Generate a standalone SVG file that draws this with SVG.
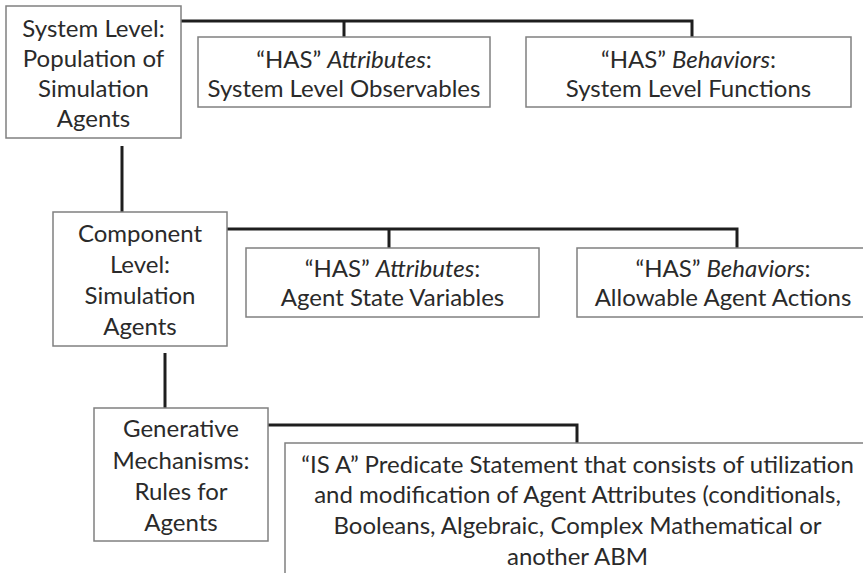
<svg xmlns="http://www.w3.org/2000/svg" width="863" height="573" viewBox="0 0 863 573">
<style>
.box{fill:#fff;stroke:#808080;stroke-width:1.5}
.t{font-family:Lato,"Open Sans","Liberation Sans",sans-serif;font-size:24px;fill:#2a2a2a;text-anchor:middle}
.i{font-style:italic}
.c{fill:none;stroke:#1e1e1e;stroke-width:3;stroke-linecap:butt;stroke-linejoin:miter}
</style>
<rect width="863" height="573" fill="#fff"/>
<g id="connectors">
<path class="c" d="M181 21 H692 V37"/>
<path class="c" d="M344 21 V37"/>
<path class="c" d="M122 146 V212"/>
<path class="c" d="M227 229 H737 V248"/>
<path class="c" d="M389 229 V248"/>
<path class="c" d="M165 353 V408"/>
<path class="c" d="M268 425 H577 V443"/>
</g>
<g id="system-level">
<rect class="box" x="6" y="6" width="175" height="132"/>
<text class="t" x="93.5" y="37">System Level:</text>
<text class="t" x="93.5" y="67">Population of</text>
<text class="t" x="93.5" y="97">Simulation</text>
<text class="t" x="93.5" y="127">Agents</text>
</g>
<g id="system-attributes">
<rect class="box" x="198" y="37" width="292" height="70"/>
<text class="t" x="344" y="68">“HAS” <tspan class="i">Attributes</tspan>:</text>
<text class="t" x="344" y="97">System Level Observables</text>
</g>
<g id="system-behaviors">
<rect class="box" x="526" y="37" width="325" height="70"/>
<text class="t" x="688.5" y="68">“HAS” <tspan class="i">Behaviors</tspan>:</text>
<text class="t" x="688.5" y="97">System Level Functions</text>
</g>
<g id="component-level">
<rect class="box" x="53" y="212" width="174" height="134"/>
<text class="t" x="140" y="242">Component</text>
<text class="t" x="140" y="273">Level:</text>
<text class="t" x="140" y="304">Simulation</text>
<text class="t" x="140" y="335">Agents</text>
</g>
<g id="agent-attributes">
<rect class="box" x="246" y="248" width="293" height="69"/>
<text class="t" x="392.5" y="277">“HAS” <tspan class="i">Attributes</tspan>:</text>
<text class="t" x="392.5" y="306">Agent State Variables</text>
</g>
<g id="agent-behaviors">
<rect class="box" x="577" y="248" width="300" height="69"/>
<text class="t" x="723" y="277">“HAS” <tspan class="i">Behaviors</tspan>:</text>
<text class="t" x="723" y="306">Allowable Agent Actions</text>
</g>
<g id="generative-mechanisms">
<rect class="box" x="94" y="408" width="174" height="133"/>
<text class="t" x="181" y="437">Generative</text>
<text class="t" x="181" y="469">Mechanisms:</text>
<text class="t" x="181" y="500">Rules for</text>
<text class="t" x="181" y="531">Agents</text>
</g>
<g id="is-a-predicate">
<rect class="box" x="285" y="443" width="600" height="150"/>
<text class="t" x="577.5" y="473">“IS A” Predicate Statement that consists of utilization</text>
<text class="t" x="577.5" y="503">and modification of Agent Attributes (conditionals,</text>
<text class="t" x="577.5" y="534">Booleans, Algebraic, Complex Mathematical or</text>
<text class="t" x="577.5" y="565">another ABM</text>
</g>
</svg>
